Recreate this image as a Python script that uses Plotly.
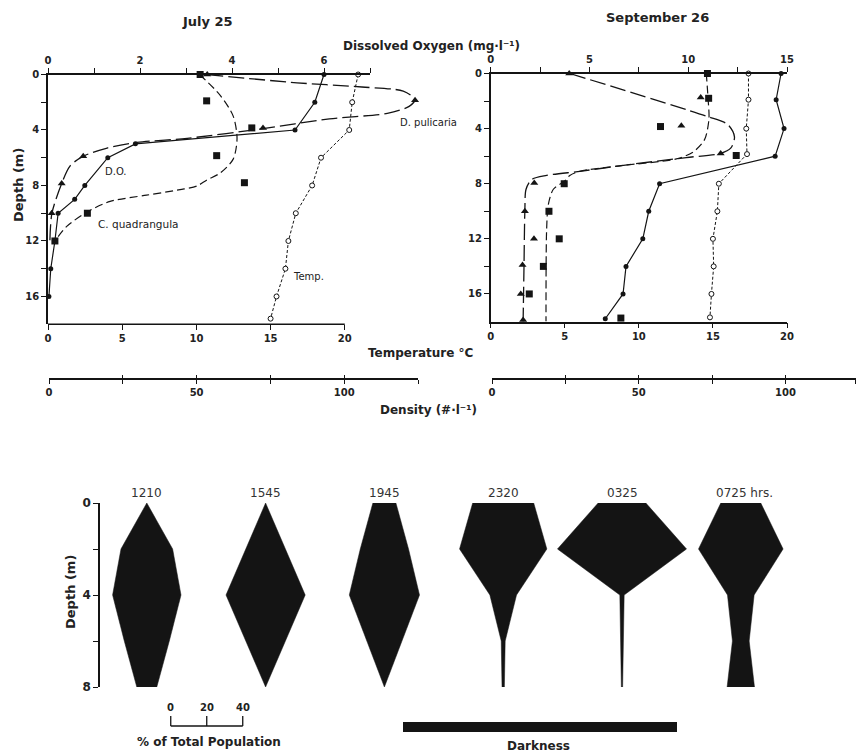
import plotly.graph_objects as go

W, H = 857, 752


def px(x):
    return x / W


def py(y):
    return 1 - y / H


# ---------------- data ----------------
# July 25 profiles (depth in m)
jul_temp_depth = [0, 2, 4, 6, 8, 10, 12, 14, 16, 17.6]
jul_temp = [20.9, 20.5, 20.3, 18.4, 17.8, 16.7, 16.2, 16.0, 15.4, 15.0]
jul_do_depth = [0, 2, 4, 5, 6, 8, 9, 10, 12, 14, 16]
jul_do = [6.0, 5.8, 5.37, 1.9, 1.3, 0.8, 0.58, 0.22, 0.15, 0.06, 0.02]
jul_dp_depth = [0, 1.85, 3.85, 5.9, 7.85, 10]
jul_dp = [53.6, 124, 72.5, 11.6, 4.3, 0.9]
jul_cq_depth = [0, 1.9, 3.85, 5.85, 7.8, 10, 12]
jul_cq = [51.2, 53.4, 68.7, 56.8, 66.2, 13.0, 2.0]
jul_dp_fit_depth = [0, 0.6, 0.9, 1.2, 1.8, 2.3, 2.8, 3.2, 3.9, 4.6, 4.9, 5.3, 5.9, 6.6, 7.8, 10, 12]
jul_dp_fit = [53.6, 84, 106, 120, 124, 122, 114.6, 95, 72.5, 46.8, 29.8, 19.7, 11.5, 7.1, 4.4, 1.0, 0.3]
jul_cq_fit_depth = [0, 1.5, 3.0, 4.6, 6.1, 7.1, 7.6, 8.05, 8.3, 8.7, 9.15, 9.9, 10.95, 12]
jul_cq_fit = [51, 58, 62.4, 63.7, 62.4, 58, 53.5, 50, 44.4, 33, 20.7, 13, 6, 2]

# September 26 profiles
sep_temp_depth = [0, 1.9, 4, 5.85, 8, 10, 12, 14, 16, 17.7]
sep_temp = [17.4, 17.4, 17.25, 17.3, 15.4, 15.3, 15.0, 15.05, 14.9, 14.8]
sep_do_depth = [0, 1.9, 4, 6, 8, 10, 12, 14, 16, 17.8]
sep_do = [14.7, 14.45, 14.85, 14.4, 8.55, 8.0, 7.7, 6.85, 6.7, 5.8]
sep_dp_depth = [0, 1.75, 3.8, 5.8, 7.95, 10, 12, 13.9, 16, 17.9]
sep_dp = [26.3, 71.1, 64.5, 77.9, 14.4, 11.2, 14.3, 10.4, 9.8, 10.6]
sep_cq_depth = [0, 1.8, 3.85, 5.95, 8, 10, 12, 14, 16, 17.75]
sep_cq = [73.4, 73.8, 57.4, 83.2, 24.6, 19.4, 22.9, 17.5, 12.7, 43.9]
sep_dp_fit_depth = [0, 3.1, 3.7, 4.6, 5.4, 5.8, 6.1, 6.7, 7.1, 7.4, 7.7, 8.4, 9.9, 14, 18]
sep_dp_fit = [26.5, 73, 80.3, 82.6, 81.4, 77.8, 66.2, 43.5, 29.9, 18.6, 13.5, 11.6, 11.2, 10.9, 10.6]
sep_cq_fit_depth = [0, 1.8, 3.3, 4.8, 5.7, 6.2, 6.7, 7.1, 7.4, 7.8, 8.4, 9.5, 11.4, 18]
sep_cq_fit = [73, 73.6, 73.9, 72.4, 68.5, 62.8, 43.5, 29.9, 26.5, 24.8, 20.9, 19.2, 18.6, 18.4]

# Kite diagrams: % of total population at each depth
kite_depths = [0, 2, 4, 6, 8]
kite_times = ["1210", "1545", "1945", "2320", "0325", "0725 hrs."]
kite_1210 = [0, 28.7, 38, 25, 11.1]
kite_1545 = [0, 22, 44, 22, 0]
kite_1945 = [12.8, 26.8, 39, 19.5, 0]
kite_2320 = [33.9, 48.5, 14.8, 2.2, 1.3]
kite_0325 = [26.5, 71.7, 2.4, 1.5, 0.7]
kite_0725 = [22.2, 47, 14.8, 9.3, 15.2]
kites = [kite_1210, kite_1545, kite_1945, kite_2320, kite_0325, kite_0725]

# tick values
depth_major = [0, 4, 8, 12, 16]
depth_minor = [2, 6, 10, 14]
temp_ticks = [0, 5, 10, 15, 20]
jul_do_major = [0, 2, 4, 6]
jul_do_minor = [1, 3, 5, 7]
sep_do_major = [0, 5, 10, 15]
sep_do_minor = [2.5, 7.5, 12.5]
dens_major = [0, 50, 100]
jul_dens_minor = [25, 75, 125]
sep_dens_minor = [25, 75, 123.7]
kite_depth_major = [0, 4, 8]
kite_depth_minor = [2, 6]

# ---------------- style ----------------
INK = "#141414"
FONT = "DejaVu Sans"
KITE_X0, KITE_STEP = 26, 66      # kite centres, in % units of the kite axis
SCALE_X0 = 39.3                   # scale bar start, in % units

fig = go.Figure()


def add(x, y, xa, ya, **kw):
    fig.add_trace(go.Scatter(x=x, y=y, xaxis=xa, yaxis=ya, showlegend=False,
                             hoverinfo="skip", cliponaxis=False, **kw))


LONG = dict(color=INK, width=1.3, dash="16px,5px", shape="spline", smoothing=0.8)
MED = dict(color=INK, width=1.2, dash="8px,4px", shape="spline", smoothing=0.8)
TRI = dict(symbol="triangle-up", size=7, color=INK)
SQ = dict(symbol="square", size=7, color=INK)
DOT = dict(symbol="circle", size=5, color=INK)
OPEN = dict(symbol="circle", size=5, color="white", line=dict(color=INK, width=1))

# July panel (fitted curves on x7, a twin of the density axis x3)
add(jul_dp_fit, jul_dp_fit_depth, "x7", "y", mode="lines", line=LONG)
add(jul_cq_fit, jul_cq_fit_depth, "x7", "y", mode="lines", line=MED)
add(jul_temp, jul_temp_depth, "x", "y", mode="lines+markers",
    line=dict(color=INK, width=1, dash="3px,2px"), marker=OPEN)
add(jul_do, jul_do_depth, "x2", "y", mode="lines+markers",
    line=dict(color=INK, width=1.2), marker=DOT)
add(jul_dp, jul_dp_depth, "x3", "y", mode="markers", marker=TRI)
add(jul_cq, jul_cq_depth, "x3", "y", mode="markers", marker=SQ)

# September panel (fitted curves on x8, a twin of the density axis x6)
add(sep_dp_fit, sep_dp_fit_depth, "x8", "y2", mode="lines", line=LONG)
add(sep_cq_fit, sep_cq_fit_depth, "x8", "y2", mode="lines", line=MED)
add(sep_temp, sep_temp_depth, "x4", "y2", mode="lines+markers",
    line=dict(color=INK, width=1, dash="3px,2px"), marker=OPEN)
add(sep_do, sep_do_depth, "x5", "y2", mode="lines+markers",
    line=dict(color=INK, width=1.2), marker=DOT)
add(sep_dp, sep_dp_depth, "x6", "y2", mode="markers", marker=TRI)
add(sep_cq, sep_cq_depth, "x6", "y2", mode="markers", marker=SQ)

# Kites
for i, pct in enumerate(kites):
    c = KITE_X0 + KITE_STEP * i
    xs = [c - p / 2 for p in pct] + [c + p / 2 for p in reversed(pct)]
    ys = kite_depths + list(reversed(kite_depths))
    fig.add_trace(go.Scatter(x=xs, y=ys, xaxis="x9", yaxis="y3", mode="lines",
                             fill="toself", fillcolor=INK,
                             line=dict(color=INK, width=0.5),
                             showlegend=False, hoverinfo="skip"))

TICKF = dict(family=FONT, size=10, color="#222", weight="bold")


def minor(vals, ticks="outside", ln=5):
    return dict(tickvals=vals, ticks=ticks, ticklen=ln, tickwidth=1.4,
                tickcolor=INK, showgrid=False)


def ax(**kw):
    base = dict(showgrid=False, zeroline=False, showline=True, linecolor=INK,
                linewidth=1.6, ticks="outside", ticklen=5, tickwidth=1.4,
                tickcolor=INK, tickfont=TICKF, automargin=False, fixedrange=True)
    base.update(kw)
    return base


layout = dict(
    width=W, height=H, margin=dict(l=0, r=0, t=0, b=0),
    paper_bgcolor="white", plot_bgcolor="rgba(0,0,0,0)",
    font=dict(family=FONT, color="#222"),
    # July
    xaxis=ax(domain=[px(48), px(370)], range=[0, 21.7], anchor="y",
             showline=False, tickvals=temp_ticks),
    xaxis2=ax(overlaying="x", side="top", anchor="y", range=[0, 7],
              tickvals=jul_do_major, minor=minor(jul_do_minor)),
    yaxis=ax(domain=[py(324.2), py(74.5)], range=[18, 0], anchor="x",
             tickvals=depth_major, minor=minor(depth_minor)),
    xaxis3=ax(domain=[px(49), px(418)], range=[0, 125], anchor="free",
              position=py(379), ticklen=4, tickvals=dens_major,
              minor=minor(jul_dens_minor, ln=4)),
    xaxis7=ax(domain=[px(49), px(418)], range=[0, 125], anchor="free",
              overlaying="x3", position=py(379), ticks="inside", ticklen=4,
              showline=False, showticklabels=False,
              tickvals=dens_major + jul_dens_minor),
    # September
    xaxis4=ax(domain=[px(490.7), px(787)], range=[0, 20], anchor="y2",
              tickvals=temp_ticks),
    xaxis5=ax(overlaying="x4", side="top", anchor="y2", range=[0, 15],
              tickvals=sep_do_major, minor=minor(sep_do_minor)),
    yaxis2=ax(domain=[py(321.5), py(73.5)], range=[18, 0], anchor="x4",
              tickvals=depth_major, minor=minor(depth_minor)),
    xaxis6=ax(domain=[px(492), px(856)], range=[0, 124], anchor="free",
              position=py(379), ticklen=4, tickvals=dens_major,
              minor=minor(sep_dens_minor, ln=4)),
    xaxis8=ax(domain=[px(492), px(856)], range=[0, 124], anchor="free",
              overlaying="x6", position=py(379), ticks="inside", ticklen=4,
              showline=False, showticklabels=False,
              tickvals=dens_major + sep_dens_minor),
    # Kites
    xaxis9=dict(domain=[px(100), 1], range=[0, 757 / 1.8], visible=False,
                anchor="y3", fixedrange=True),
    yaxis3=ax(domain=[py(687), py(503)], range=[8, 0], anchor="x9",
              tickvals=kite_depth_major, minor=minor(kite_depth_minor),
              tickfont=dict(family=FONT, size=12, color="#222", weight="bold")),
)
fig.update_layout(**layout)

# Temperature axis line (July) stops at 20 °C
shapes = [
    dict(type="line", xref="x", yref="paper", x0=0, x1=20,
         y0=py(324.2), y1=py(324.2), line=dict(color=INK, width=1.6)),
    dict(type="rect", xref="paper", yref="paper", x0=px(403), x1=px(677),
         y0=py(732), y1=py(722), fillcolor=INK, line=dict(width=0)),
    dict(type="line", xref="x9", yref="paper", x0=SCALE_X0, x1=SCALE_X0 + 40,
         y0=py(726), y1=py(726), line=dict(color=INK, width=1.3)),
]
for v in (0, 20, 40):
    shapes.append(dict(type="line", xref="x9", yref="paper",
                       x0=SCALE_X0 + v, x1=SCALE_X0 + v,
                       y0=py(726), y1=py(716), line=dict(color=INK, width=1.3)))
fig.update_layout(shapes=shapes)

ann = []


def text(t, x, y, size=12, bold=True, angle=0, xref="paper", color="#222"):
    ann.append(dict(text=t, x=x if xref != "paper" else px(x), y=py(y),
                    xref=xref, yref="paper", showarrow=False, textangle=angle,
                    xanchor="center", yanchor="middle",
                    font=dict(family=FONT, size=size, color=color,
                              weight="bold" if bold else "normal")))


text("July 25", 207, 21, 13)
text("September 26", 657, 18, 13)
text("Dissolved Oxygen (mg·l⁻¹)", 431, 46, 12)
text("Temperature °C", 420, 353, 12)
text("Density (#·l⁻¹)", 428, 410, 12)
text("Depth (m)", 18, 185, 13, angle=-90)
text("Depth (m)", 70, 592, 13, angle=-90)
text("D.O.", 116, 172, 10, bold=False)
text("C. quadrangula", 138, 224, 10.5, bold=False)
text("Temp.", 308, 276, 10, bold=False)
text("D. pulicaria", 428, 122, 10, bold=False)
for i, t in enumerate(kite_times):
    c = KITE_X0 + KITE_STEP * i
    if t.endswith("hrs."):
        c += 2
    text(t, c, 493, 12, bold=False, xref="x9", color="#333")
for v in (0, 20, 40):
    text(str(v), SCALE_X0 + v, 707, 10, xref="x9")
text("% of Total Population", 209, 742, 12)
text("Darkness", 538, 746, 12)
fig.update_layout(annotations=ann)

fig.write_html("out.html")
